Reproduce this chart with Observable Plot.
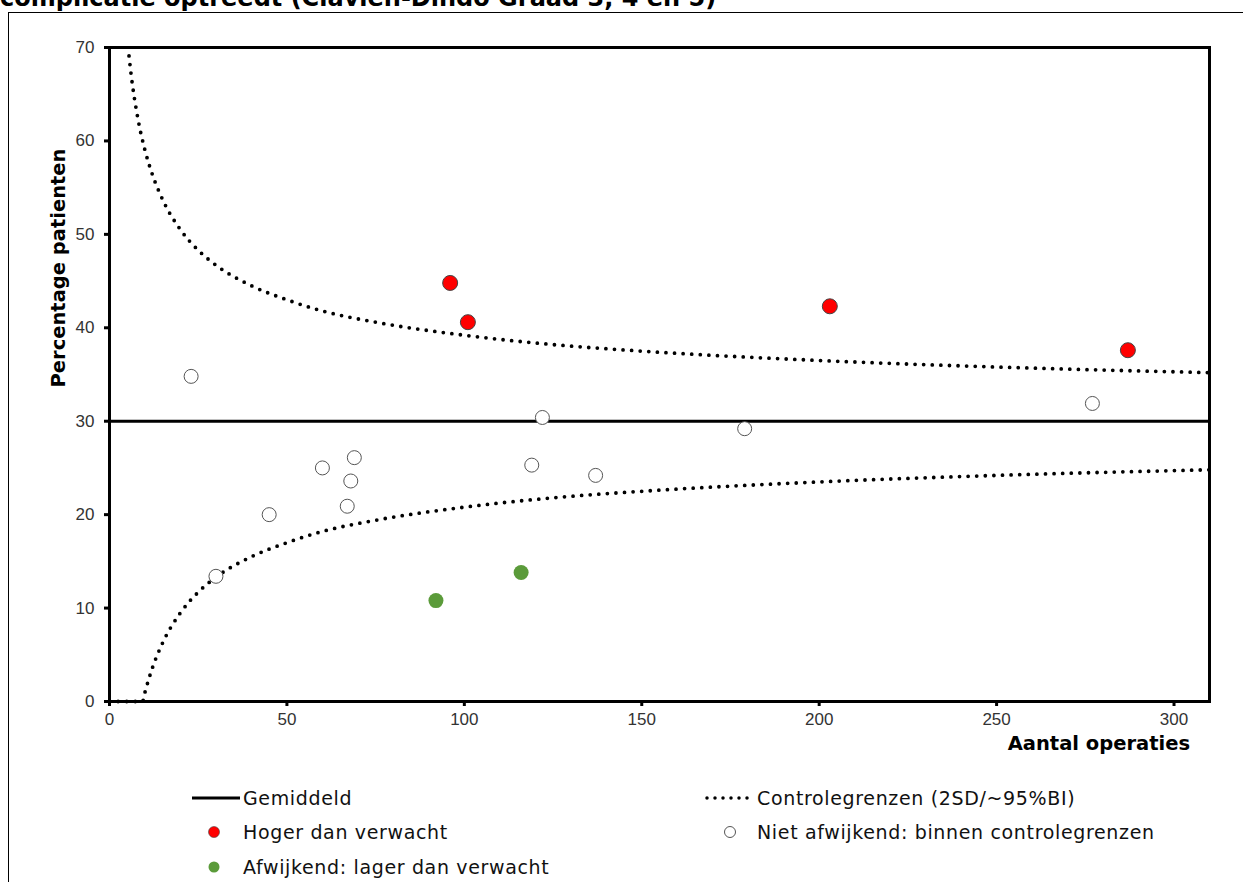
<!DOCTYPE html>
<html><head><meta charset="utf-8">
<script src="https://cdn.jsdelivr.net/npm/d3@7"></script>
<script src="https://cdn.jsdelivr.net/npm/@observablehq/plot@0.6"></script>
<style>
body{margin:0;background:#fff;overflow:hidden;width:1243px;height:882px;position:relative;}
#title{position:absolute;left:0px;top:-14px;font:bold 24px/24px "DejaVu Sans";white-space:nowrap;color:#000;}
#frame{position:absolute;left:8px;top:12px;width:1300px;height:900px;border-left:1.5px solid #000;border-top:1.5px solid #000;}
#chart{position:absolute;left:0;top:0;}
#chart svg text{fill:#333;font-size:17px;}
.ytitle{position:absolute;left:58px;top:268px;transform:translate(-50%,-50%) rotate(-90deg);font:bold 19.5px "DejaVu Sans";white-space:nowrap;}
.xtitle{position:absolute;right:53px;top:732px;font:bold 19.5px "DejaVu Sans";white-space:nowrap;}
.leg{position:absolute;font:19px "DejaVu Sans";letter-spacing:0.65px;white-space:nowrap;color:#111;display:flex;align-items:center;}
.leg svg{flex:none;}
</style>
</head><body>
<div id="title">complicatie optreedt (Clavien-Dindo Graad 3, 4 en 5)</div>
<div id="frame"></div>
<div id="chart"></div>
<div class="ytitle">Percentage patienten</div>
<div class="xtitle">Aantal operaties</div>
<div id="legend"></div>
<script>
// ---- data ----
const hogerN = [96, 101, 203, 287];
const hogerPct = [44.8, 40.6, 42.3, 37.6];
const lagerN = [92, 116];
const lagerPct = [10.8, 13.8];
const nietN = [23, 30, 45, 60, 67, 68, 69, 119, 122, 137, 179, 277];
const nietPct = [34.8, 13.4, 20.0, 25.0, 20.9, 23.6, 26.1, 25.3, 30.4, 24.2, 29.2, 31.9];
const gemiddeld = 30.0;
// control limits
const upperN = [5.5, 6, 8, 10, 12, 15, 20, 25, 30, 40, 50, 60, 75, 100, 125, 150, 200, 250, 310];
const upperPct = [69.1, 67.4, 62.4, 59.0, 56.5, 53.7, 50.5, 48.3, 46.7, 44.5, 43.0, 41.8, 40.6, 39.2, 38.2, 37.5, 36.5, 35.8, 35.2];
const lowerN = [0, 5, 9.3, 10, 12, 15, 20, 25, 30, 40, 50, 60, 75, 100, 125, 150, 200, 250, 310];
const lowerPct = [0, 0, 0, 1.0, 3.5, 6.3, 9.5, 11.7, 13.3, 15.5, 17.0, 18.2, 19.4, 20.8, 21.8, 22.5, 23.5, 24.2, 24.8];
const xTicks = [0, 50, 100, 150, 200, 250, 300];
const yTicks = [0, 10, 20, 30, 40, 50, 60, 70];
const legendLabels = ["Gemiddeld", "Controlegrenzen (2SD/~95%BI)", "Hoger dan verwacht", "Niet afwijkend: binnen controlegrenzen", "Afwijkend: lager dan verwacht"];

const zip = (a, b) => a.map((v, i) => ({n: v, p: b[i]}));
const upper = zip(upperN, upperPct);
const lower = zip(lowerN, lowerPct);
const hoger = zip(hogerN, hogerPct);
const lager = zip(lagerN, lagerPct);
const niet = zip(nietN, nietPct);

const dotted = {strokeDasharray: "0,8.6", strokeLinecap: "round", strokeWidth: 3.8, stroke: "#000"};

const chart = Plot.plot({
  width: 1243, height: 770,
  marginLeft: 109, marginRight: 34, marginTop: 47, marginBottom: 69,
  style: {fontFamily: "'Liberation Sans', Arial, sans-serif", fontSize: "17px", background: "transparent"},
  x: {domain: [0, 310]},
  y: {domain: [0, 70]},
  marks: [
    Plot.line(lower, {x: "n", y: "p", curve: "monotone-x", ...dotted}),
    Plot.line(upper, {x: "n", y: "p", curve: "monotone-x", ...dotted}),
    Plot.ruleY([gemiddeld], {x1: 0, x2: 310, stroke: "#000", strokeWidth: 3}),
    Plot.axisX({ticks: xTicks, tickSize: 5, strokeWidth: 3, tickPadding: 6, fontSize: 17, label: null}),
    Plot.axisY({ticks: yTicks, tickSize: 5, strokeWidth: 3, tickPadding: 10, fontSize: 17, label: null}),
    Plot.frame({stroke: "#000", strokeWidth: 3}),
    Plot.dot(niet, {x: "n", y: "p", r: 7, fill: "#fff", stroke: "#555", strokeWidth: 1}),
    Plot.dot(hoger, {x: "n", y: "p", r: 7.5, fill: "#ff0000", stroke: "#444", strokeWidth: 1}),
    Plot.dot(lager, {x: "n", y: "p", r: 7.5, fill: "#5b9b3a", stroke: "none"})
  ]
});
document.getElementById("chart").appendChild(chart);

// legend
const leg = document.getElementById("legend");
const NS = "http://www.w3.org/2000/svg";
function item(left, top, swatch, label) {
  const d = document.createElement("div");
  d.className = "leg";
  d.style.left = left + "px"; d.style.top = top + "px";
  const s = document.createElementNS(NS, "svg");
  s.setAttribute("width", 52); s.setAttribute("height", 20);
  s.innerHTML = swatch;
  d.appendChild(s);
  const t = document.createElement("span");
  t.textContent = label;
  t.style.marginLeft = "1px";
  d.appendChild(t);
  leg.appendChild(d);
}
item(190, 787, '<line x1="2" x2="50" y1="10" y2="10" stroke="#000" stroke-width="3"/>', legendLabels[0]);
item(704, 787, '<line x1="3" x2="51" y1="10" y2="10" stroke="#000" stroke-width="3.5" stroke-dasharray="0,8" stroke-linecap="round"/>', legendLabels[1]);
item(190, 821, '<circle cx="24" cy="10" r="5.5" fill="#ff0000" stroke="#444" stroke-width="0.6"/>', legendLabels[2]);
item(704, 821, '<circle cx="26" cy="10" r="5.5" fill="#fff" stroke="#555" stroke-width="1"/>', legendLabels[3]);
item(190, 856, '<circle cx="24" cy="10" r="5.5" fill="#5b9b3a"/>', legendLabels[4]);
</script>
</body></html>
